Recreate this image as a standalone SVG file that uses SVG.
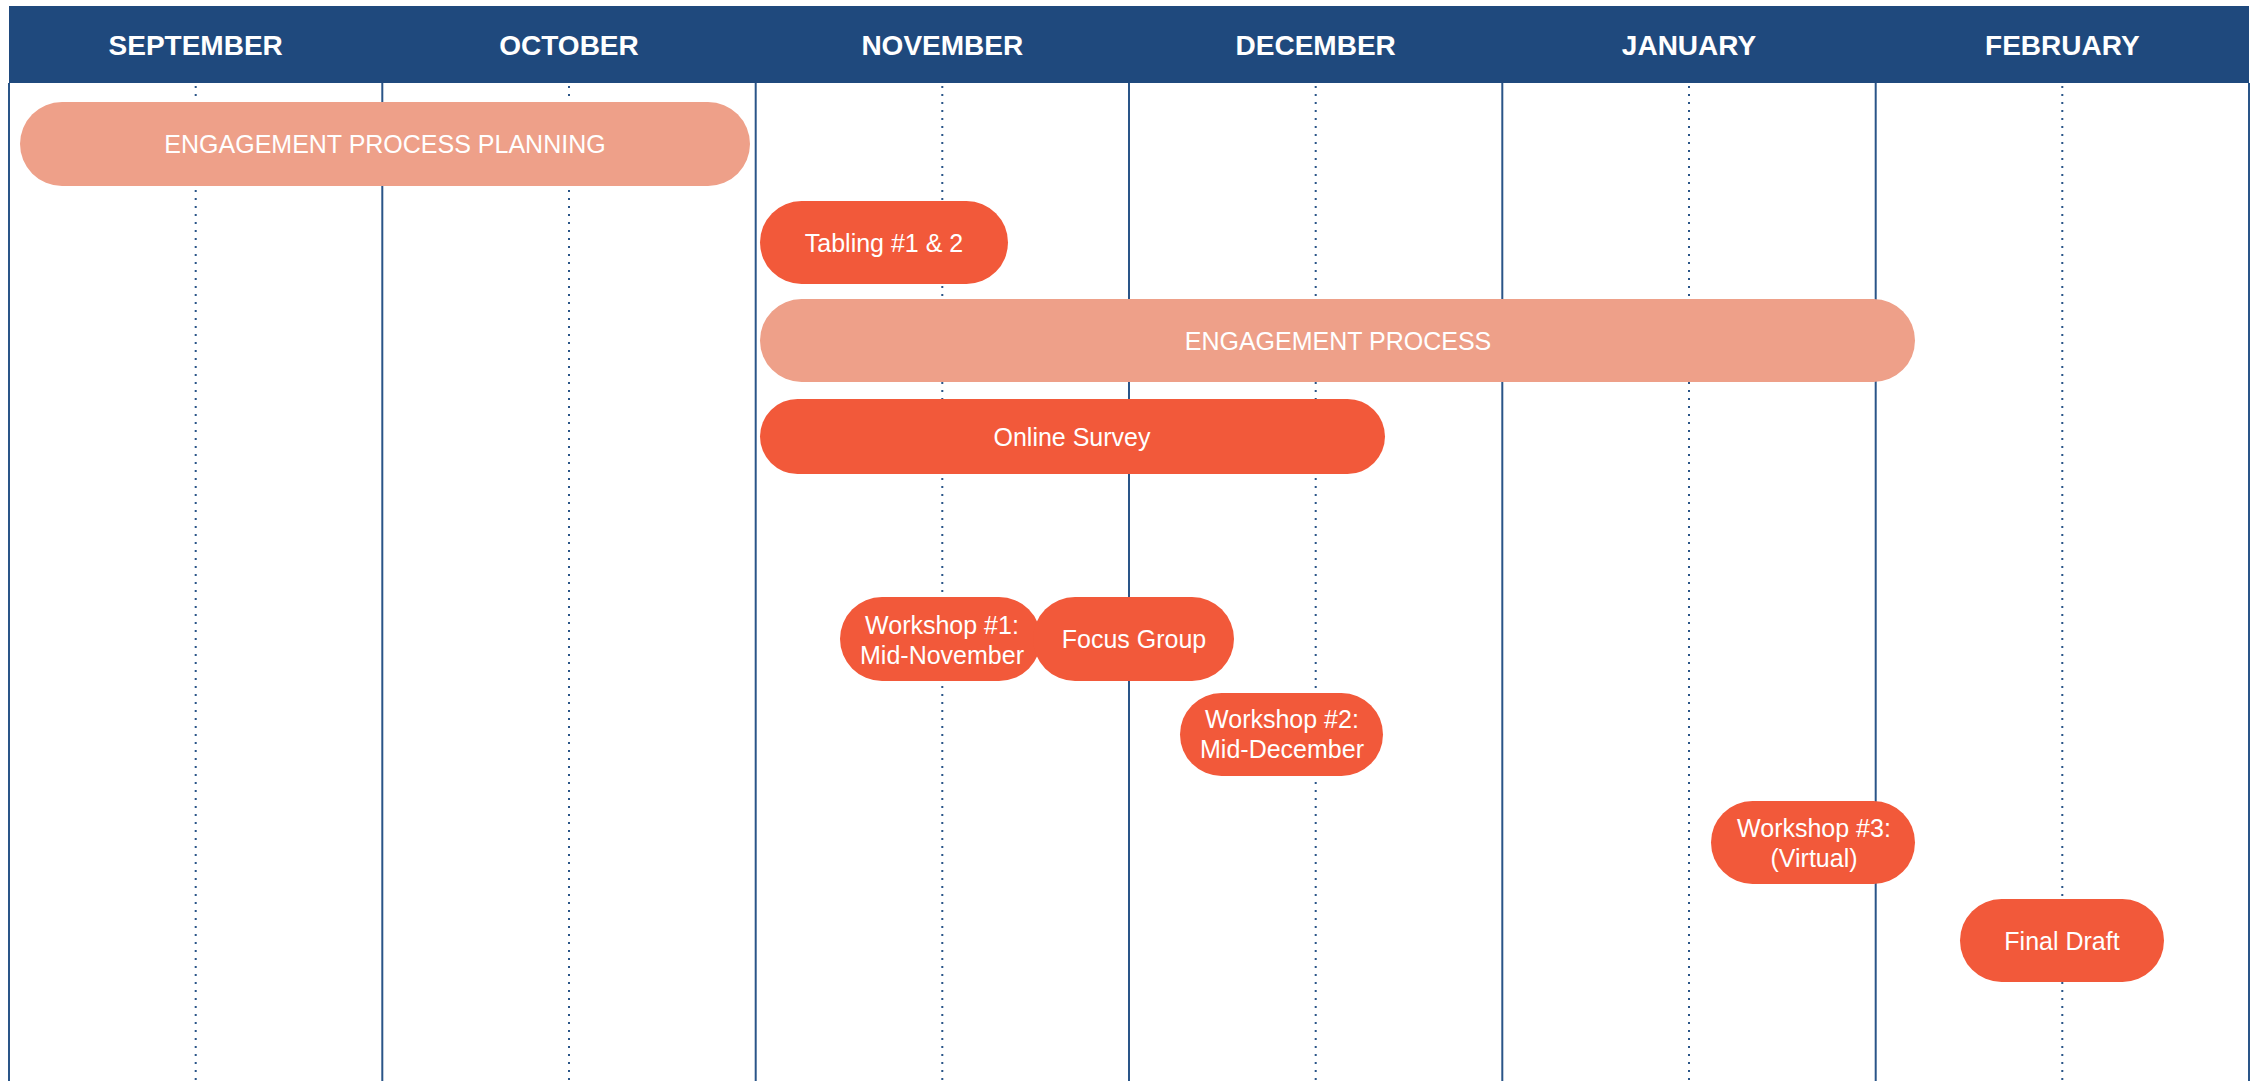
<svg xmlns="http://www.w3.org/2000/svg" width="2260" height="1081" viewBox="0 0 2260 1081">
<style>
.hdr{fill:#1f497d}
.htxt{font-family:"Liberation Sans",Arial,sans-serif;font-weight:bold;font-size:28px;fill:#ffffff;text-anchor:middle}
.solid{stroke:#2a5588;stroke-width:2;fill:none}
.dot{stroke:#2a5588;stroke-width:2;stroke-dasharray:2 6;fill:none}
.light{fill:#eea089}
.dark{fill:#f2593a}
.t{font-family:"Liberation Sans",Arial,sans-serif;font-size:25px;fill:#ffffff;text-anchor:middle}
</style>
<rect width="2260" height="1081" fill="#ffffff"/>
<g id="grid">
<line class="solid" x1="9" y1="83" x2="9" y2="1081"/>
<line class="solid" x1="382.3" y1="83" x2="382.3" y2="1081"/>
<line class="solid" x1="755.7" y1="83" x2="755.7" y2="1081"/>
<line class="solid" x1="1129" y1="83" x2="1129" y2="1081"/>
<line class="solid" x1="1502.3" y1="83" x2="1502.3" y2="1081"/>
<line class="solid" x1="1875.7" y1="83" x2="1875.7" y2="1081"/>
<line class="solid" x1="2249" y1="83" x2="2249" y2="1081"/>
<line class="dot" x1="195.7" y1="86" x2="195.7" y2="1081"/>
<line class="dot" x1="569" y1="86" x2="569" y2="1081"/>
<line class="dot" x1="942.3" y1="86" x2="942.3" y2="1081"/>
<line class="dot" x1="1315.7" y1="86" x2="1315.7" y2="1081"/>
<line class="dot" x1="1689" y1="86" x2="1689" y2="1081"/>
<line class="dot" x1="2062.3" y1="86" x2="2062.3" y2="1081"/>
</g>
<g id="header">
<rect class="hdr" x="9" y="6" width="2240" height="77"/>
<text class="htxt" x="195.7" y="55">SEPTEMBER</text>
<text class="htxt" x="569" y="55">OCTOBER</text>
<text class="htxt" x="942.3" y="55">NOVEMBER</text>
<text class="htxt" x="1315.7" y="55">DECEMBER</text>
<text class="htxt" x="1689" y="55">JANUARY</text>
<text class="htxt" x="2062.3" y="55">FEBRUARY</text>
</g>
<g id="connectors"></g>
<g id="planning">
<rect class="light" x="20" y="102" width="730" height="84" rx="42" ry="42"/>
<text class="t" x="385" y="153">ENGAGEMENT PROCESS PLANNING</text>
</g>
<g id="tabling">
<rect class="dark" x="760" y="201" width="248" height="83" rx="41.5" ry="41.5"/>
<text class="t" x="884" y="251.5">Tabling #1 &amp; 2</text>
</g>
<g id="engagement">
<rect class="light" x="760" y="299" width="1155" height="83" rx="41.5" ry="41.5"/>
<text class="t" x="1338" y="349.5">ENGAGEMENT PROCESS</text>
</g>
<g id="survey">
<rect class="dark" x="760" y="399" width="625" height="75" rx="37.5" ry="37.5"/>
<text class="t" x="1072" y="445.5">Online Survey</text>
</g>
<g id="workshop1">
<rect class="dark" x="840" y="597" width="201" height="84" rx="42" ry="42"/>
<text class="t" x="942" y="634">Workshop #1:</text>
<text class="t" x="942" y="664">Mid-November</text>
</g>
<g id="focus">
<rect class="dark" x="1033" y="597" width="201" height="84" rx="42" ry="42"/>
<text class="t" x="1134" y="648">Focus Group</text>
</g>
<g id="workshop2">
<rect class="dark" x="1180" y="693" width="203" height="83" rx="41.5" ry="41.5"/>
<text class="t" x="1282" y="728">Workshop #2:</text>
<text class="t" x="1282" y="758">Mid-December</text>
</g>
<g id="workshop3">
<rect class="dark" x="1711" y="801" width="204" height="83" rx="41.5" ry="41.5"/>
<text class="t" x="1814" y="836.5">Workshop #3:</text>
<text class="t" x="1814" y="866.5">(Virtual)</text>
</g>
<g id="finaldraft">
<rect class="dark" x="1960" y="899" width="204" height="83" rx="41.5" ry="41.5"/>
<text class="t" x="2062" y="950">Final Draft</text>
</g>
</svg>
